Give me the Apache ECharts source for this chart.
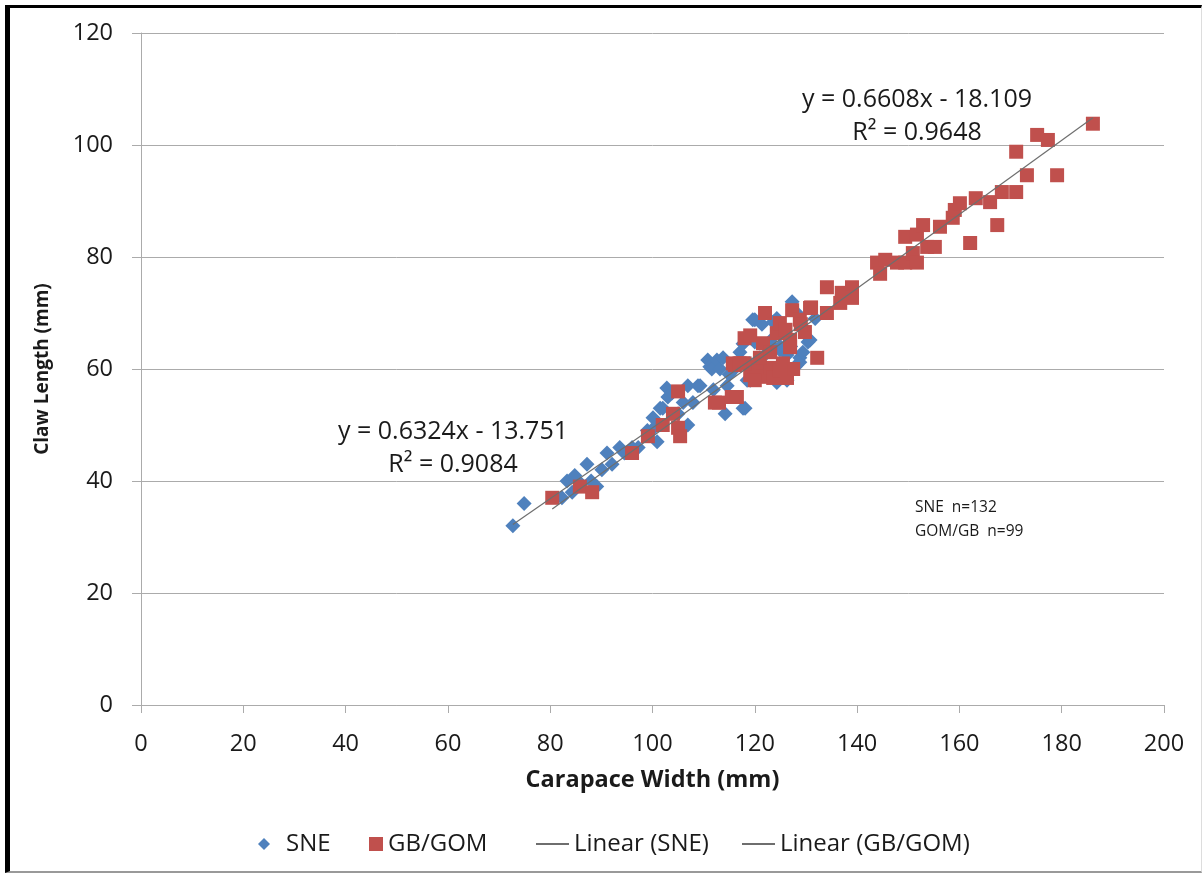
<!DOCTYPE html>
<html>
<head>
<meta charset="utf-8">
<script src="https://cdn.jsdelivr.net/npm/echarts@6/dist/echarts.min.js"></script>
<style>
html,body{margin:0;padding:0;background:#fff;}
#chart{width:1204px;height:875px;position:relative;}
#frame{position:absolute;left:5px;top:5px;width:1197px;height:868px;border-left:5px solid #000;border-top:3px solid #000;border-bottom:2px solid #999;border-right:1px solid #ddd;box-sizing:border-box;pointer-events:none;}
</style>
</head>
<body>
<div id="chart"></div>
<div id="frame"></div>
<script>
// ---- Data ----
const sneX = [72.7,74.9,82.3,83.3,84.3,84.8,86,87.2,88,89.1,90.1,91.1,92.1,93.6,94.5,96,97.2,99,100.1,100.3,100.9,101.5,102,102.8,103,103.8,105,106,106.9,106.9,107.9,108.9,109.3,110.8,111.2,111.6,111.9,112.6,113.2,113.8,114.2,114.6,116,117.1,117.7,117.7,118.1,118.5,119.1,119.6,120,120,121.4,122.4,122.4,123.6,123.6,124.3,124.3,124.9,124.9,126.3,126.3,127.3,127.9,128.2,128.2,128.8,128.8,129.4,130.4,130.8,131.8,115,116,120,121,123,125,119,126,122,127];
const sneY = [32,36,37,40,38,41,39.5,43,40,39,42,45,43,46,45,46,46,49,51.3,49.5,47,53,53,56.6,55,55.7,52,54,57,50,54,57,57,61.6,60.4,60,56.3,61.6,60,62,52,57,60,63,64.5,53,53,58,58,68.8,64.8,68.8,68,63.8,62.9,68.4,63.9,69,57.6,67.9,63.4,62.5,58,72,60.4,70,60.7,61.2,62,63,64.8,65.2,69,59,61,60,62,65,64,61,66,60,64];
const gbX = [80.4,85.8,88.2,96,99.1,102,104,105,105.4,105,112.2,113,115.5,116.5,116.1,115.7,117.5,118,119.1,119.1,120.4,121.6,121.6,122,123,123.6,124.3,124.9,124.9,125.5,126.3,126.9,126.9,127.3,127.5,128.8,129.8,130.8,131,132.2,134.1,134.1,136.7,137,139,139,143.9,144.5,145.5,147.8,149.4,149.4,150.9,151.7,151.7,152.9,153.7,155.2,156.2,158.7,159.1,160.1,162.1,163.2,166,167.4,168.3,171.1,171.1,173.2,175.2,177.3,179.1,186.1,121,123,118,126,125,120,117,129];
const gbY = [37,39,38,45,48,50,52,49.5,48,56,54,54,55,55,60.7,61,61,65.5,66,58.9,60.4,64.6,58.6,70,60.2,58.4,66.4,68.2,59.8,61,58.4,65.2,63.9,70.5,60,68.8,66.6,70.9,71,62,70,74.6,71.8,73.6,74.6,72.7,79,77,79.5,79,83.6,79,80.7,84,79,85.7,81.8,81.8,85.4,87,88.4,89.6,82.5,90.5,89.8,85.7,91.6,91.6,98.8,94.6,101.8,100.9,94.6,103.8,62,63,61,67,60,58,61,68];
const trendSlope = {SNE: 0.6324, GB: 0.6608};
const trendIntercept = {SNE: -13.751, GB: -18.109};
const xTicks = {min: 0, max: 200, step: 20};
const yTicks = {min: 0, max: 120, step: 20};
const eqLabels = ['y = 0.6324x - 13.751', 'R² = 0.9084', 'y = 0.6608x - 18.109', 'R² = 0.9648'];
const noteLabels = ['SNE  n=132', 'GOM/GB  n=99'];

// ---- Build ----
const zip = (xs, ys) => xs.map((x, i) => [x, ys[i]]);
const trend = (xs, k) => {
  const lo = Math.min(...xs), hi = Math.max(...xs);
  return [[lo, trendSlope[k] * lo + trendIntercept[k]], [hi, trendSlope[k] * hi + trendIntercept[k]]];
};
const FONT = '"Open Sans", "Noto Sans", sans-serif';
const txt = '#1a1a1a';
const axisGray = '#ababab';

const chart = echarts.init(document.getElementById('chart'), null, {renderer: 'canvas'});
const legendBase = {orient: 'horizontal', top: 832, padding: 0, textStyle: {fontFamily: FONT, fontSize: 24, color: txt}, selectedMode: false};
chart.setOption({
  backgroundColor: '#fff',
  animation: false,
  textStyle: {fontFamily: FONT},
  grid: {left: 141, right: 40, top: 33, bottom: 170, containLabel: false},
  xAxis: {
    type: 'value', min: xTicks.min, max: xTicks.max, interval: xTicks.step,
    name: 'Carapace Width (mm)', nameLocation: 'middle', nameGap: 63,
    nameTextStyle: {fontFamily: FONT, fontSize: 23.5, fontWeight: 'bold', color: txt},
    axisLine: {show: true, lineStyle: {color: axisGray, width: 1}},
    axisTick: {show: true, inside: false, length: 8, lineStyle: {color: axisGray}},
    axisLabel: {fontFamily: FONT, fontSize: 23.5, color: txt, margin: 27},
    splitLine: {show: false}
  },
  yAxis: {
    type: 'value', min: yTicks.min, max: yTicks.max, interval: yTicks.step,
    name: 'Claw Length (mm)', nameLocation: 'middle', nameGap: 89, nameRotate: 90,
    nameTextStyle: {fontFamily: FONT, fontSize: 19, fontWeight: 'bold', color: txt},
    axisLine: {show: true, lineStyle: {color: axisGray, width: 1}},
    axisTick: {show: true, inside: false, length: 9, lineStyle: {color: axisGray}},
    axisLabel: {fontFamily: FONT, fontSize: 23.5, color: txt, margin: 28},
    splitLine: {show: true, lineStyle: {color: axisGray, width: 1}}
  },
  legend: [
    Object.assign({}, legendBase, {left: 258, data: [{name: 'SNE', icon: 'diamond'}], itemWidth: 12, itemHeight: 12, itemGap: 0, textStyle: Object.assign({}, legendBase.textStyle, {padding: [0, 0, 0, 11]})}),
    Object.assign({}, legendBase, {left: 369, data: [{name: 'GB/GOM', icon: 'rect'}], itemWidth: 14, itemHeight: 14, itemGap: 0}),
    Object.assign({}, legendBase, {left: 535, data: ['Linear (SNE)'], itemWidth: 33, itemHeight: 14, itemGap: 0, itemStyle: {opacity: 0}}),
    Object.assign({}, legendBase, {left: 741, data: ['Linear (GB/GOM)'], itemWidth: 33, itemHeight: 14, itemGap: 0, itemStyle: {opacity: 0}})
  ],
  series: [
    {name: 'SNE', type: 'scatter', symbol: 'diamond', symbolSize: 15, data: zip(sneX, sneY),
     itemStyle: {color: '#4F81BD', opacity: 1}, z: 2},
    {name: 'GB/GOM', type: 'scatter', symbol: 'rect', symbolSize: 14, data: zip(gbX, gbY),
     itemStyle: {color: '#C0504D', opacity: 1}, z: 3},
    {name: 'Linear (SNE)', type: 'line', symbol: 'none', data: trend(sneX, 'SNE'),
     lineStyle: {color: '#6e6e6e', width: 1.2}, itemStyle: {color: '#6e6e6e'}, z: 4},
    {name: 'Linear (GB/GOM)', type: 'line', symbol: 'none', data: trend(gbX, 'GB'),
     lineStyle: {color: '#6e6e6e', width: 1.2}, itemStyle: {color: '#6e6e6e'}, z: 4}
  ],
  graphic: [
    {type: 'text', x: 453, y: 432, style: {text: eqLabels[0], font: '25px ' + FONT, fill: txt, align: 'center', verticalAlign: 'middle'}},
    {type: 'text', x: 453, y: 465, style: {text: eqLabels[1], font: '25px ' + FONT, fill: txt, align: 'center', verticalAlign: 'middle'}},
    {type: 'text', x: 917, y: 100, style: {text: eqLabels[2], font: '25px ' + FONT, fill: txt, align: 'center', verticalAlign: 'middle'}},
    {type: 'text', x: 917, y: 133, style: {text: eqLabels[3], font: '25px ' + FONT, fill: txt, align: 'center', verticalAlign: 'middle'}},
    {type: 'text', x: 915, y: 508, style: {text: noteLabels[0], font: '15.5px ' + FONT, fill: txt, align: 'left', verticalAlign: 'middle'}},
    {type: 'text', x: 915, y: 532, style: {text: noteLabels[1], font: '15.5px ' + FONT, fill: txt, align: 'left', verticalAlign: 'middle'}}
  ]
});
</script>
</body>
</html>
